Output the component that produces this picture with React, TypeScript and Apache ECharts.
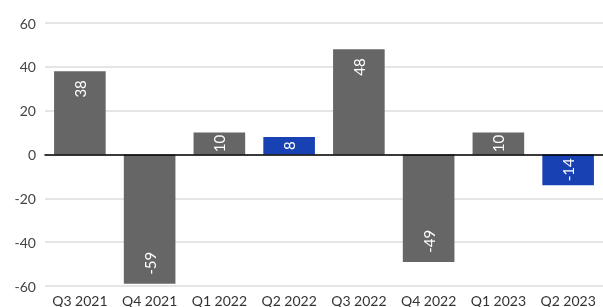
import React, { useEffect, useRef } from "react";
import * as echarts from "echarts";

const categories = ["Q3 2021", "Q4 2021", "Q1 2022", "Q2 2022", "Q3 2022", "Q4 2022", "Q1 2023", "Q2 2023"];
const values = [38, -59, 10, 8, 48, -49, 10, -14];
const highlighted = [false, false, false, true, false, false, false, true];
const yTicks = { min: -60, max: 60, interval: 20 };

const GREY = "#666666";
const BLUE = "#1841b4";

export default function App() {
  const ref = useRef<HTMLDivElement>(null);
  useEffect(() => {
    document.body.style.margin = "0";
    const chart = echarts.init(ref.current!, null, { renderer: "svg" });
    const data = values.map((v, i) => {
      const small = Math.abs(v) < 20;
      let label: any;
      if (small) {
        label = { position: "inside", rotate: 90, align: "center", verticalAlign: "middle" };
      } else if (v >= 0) {
        label = { position: "insideTop", rotate: 90, align: "right", verticalAlign: "middle", distance: 9 };
      } else {
        label = { position: "insideBottom", rotate: 90, align: "left", verticalAlign: "middle", distance: 9 };
      }
      return {
        value: v,
        itemStyle: { color: highlighted[i] ? BLUE : GREY },
        label,
      };
    });
    chart.setOption({
      animation: false,
      textStyle: { fontFamily: "Lato" },
      grid: { left: 45, top: 23, bottom: 19, width: 572, containLabel: false },
      xAxis: {
        type: "category",
        data: categories,
        axisLine: { show: true, onZero: true, lineStyle: { color: "#000", width: 1.5 } },
        axisTick: { show: false },
        axisLabel: { color: "#333", fontSize: 14, margin: 7, interval: 0, fontFamily: "Lato" },
        z: 5,
      },
      yAxis: {
        type: "value",
        min: yTicks.min,
        max: yTicks.max,
        interval: yTicks.interval,
        axisLine: { show: false },
        axisTick: { show: false },
        axisLabel: { color: "#444", fontSize: 14, margin: 9, fontFamily: "Lato" },
        splitLine: { lineStyle: { color: "#dddddd", width: 1.5 } },
      },
      series: [
        {
          type: "bar",
          data,
          barCategoryGap: "26%",
          label: { show: true, color: "#fff", fontSize: 15, fontFamily: "Lato" },
        },
      ],
    });
    return () => chart.dispose();
  }, []);
  return <div ref={ref} style={{ position: "fixed", left: 0, top: 0, width: 603, height: 307 }} />;
}
